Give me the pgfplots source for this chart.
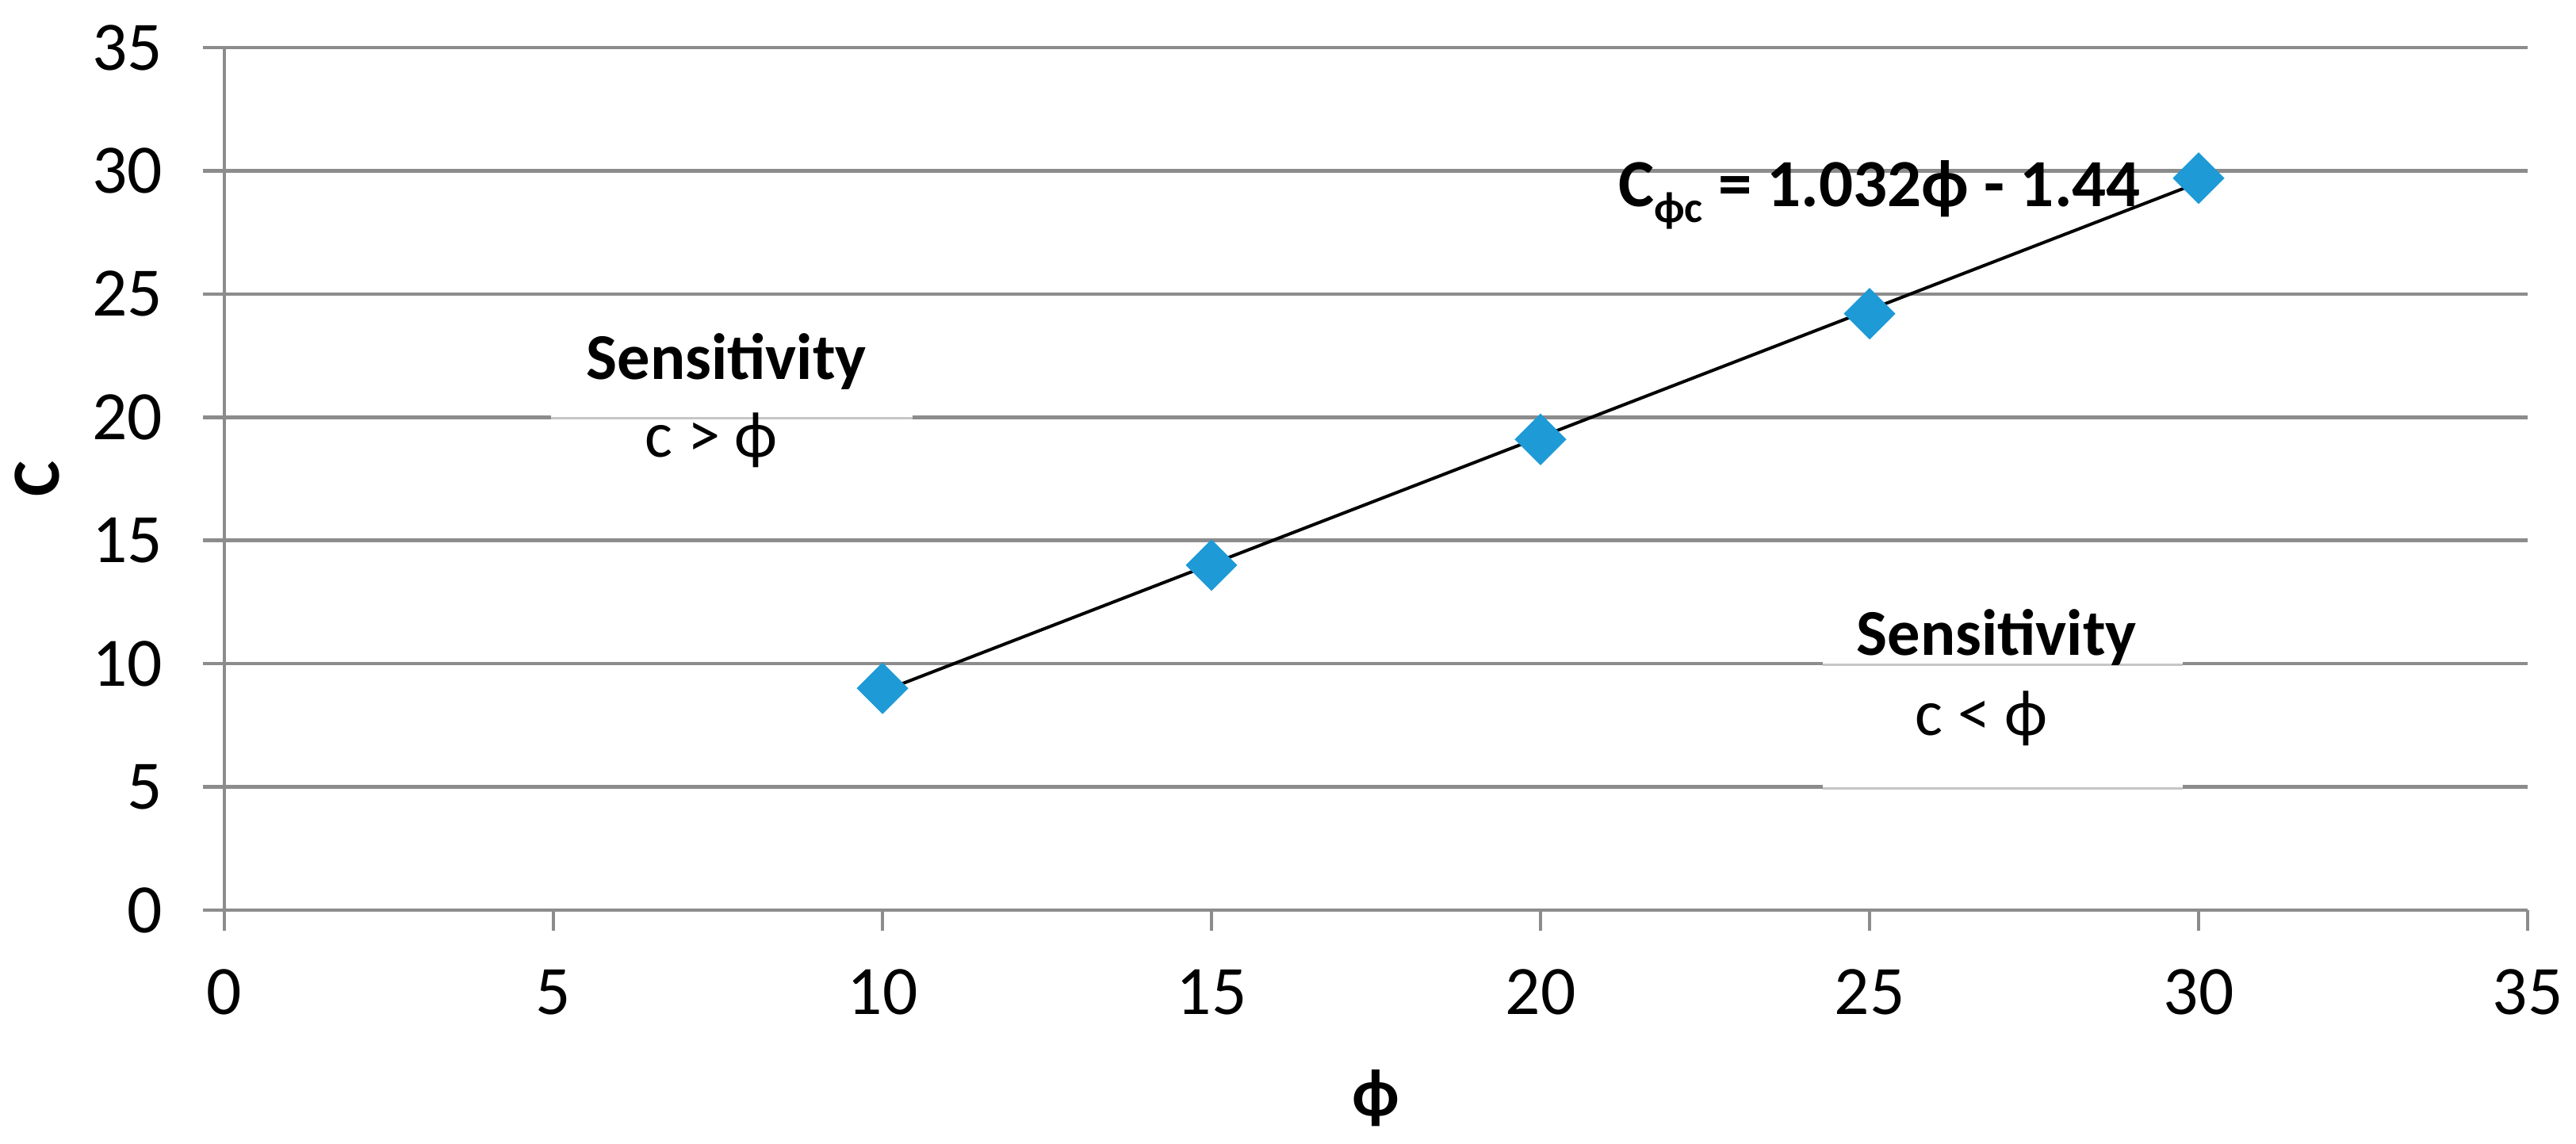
\documentclass[border=0pt]{standalone}
\usepackage{fontspec}
\setmainfont{Carlito}
\usepackage{pgfplots}
\pgfplotsset{compat=1.18}
\definecolor{mblue}{RGB}{30,154,214}
\definecolor{gridgray}{RGB}{140,140,140}
\begin{document}
\begin{tikzpicture}
\begin{axis}[
  name=ax,
  scale only axis,
  width=581pt, height=217.6pt,
  xmin=0, xmax=35, ymin=0, ymax=35,
  xtick={0,5,...,35}, ytick={0,5,...,35},
  axis x line*=bottom, axis y line*=left,
  axis line style={gridgray, line width=0.9pt},
  ymajorgrids=true,
  grid style={gridgray, line width=0.9pt},
  major tick style={gridgray, line width=0.9pt},
  tick align=outside,
  major tick length=5.3pt,
  /pgf/number format/assume math mode=true,
  tick label style={font=\fontsize{17.5}{20}\selectfont},
  xticklabel style={yshift=-6.2pt},
  yticklabel style={xshift=-6.8pt},
  every axis y label/.style={at={(axis description cs:-0.0812,0.5)},anchor=center,rotate=90},
  every axis x label/.style={at={(axis description cs:0.5,-0.2178)},anchor=center},
  xlabel={\fontsize{17}{20}\selectfont\bfseries ϕ},
  ylabel={\fontsize{17}{20}\selectfont\bfseries C},
  clip=false,
]
\addplot[only marks, mark=square*, mark size=4.4pt, mark options={rotate=45, fill=mblue, draw=mblue}]
  coordinates {(10,9.0) (15,14.0) (20,19.1) (25,24.2) (30,29.7)};
\addplot[black, line width=0.8pt, no marks] coordinates {(10,8.88) (30,29.52)};
% annotation boxes (white fill over gridlines, light border)
\draw[white, line width=1.6pt] (axis cs:4.96,20) -- (axis cs:10.46,20);
\draw[gray!45, line width=0.6pt] (axis cs:4.96,19.95) -- (axis cs:10.46,19.95);
\draw[white, line width=1.6pt] (axis cs:24.29,10) -- (axis cs:29.76,10);
\draw[gray!45, line width=0.6pt] (axis cs:24.29,9.95) -- (axis cs:29.76,9.95);
\draw[white, line width=1.6pt] (axis cs:24.29,5) -- (axis cs:29.76,5);
\draw[gray!45, line width=0.6pt] (axis cs:24.29,4.95) -- (axis cs:29.76,4.95);
\node[anchor=base, inner sep=0pt, font=\fontsize{16.5}{20}\selectfont\bfseries] at (axis cs:7.63,21.55) {Sensitivity};
\node[anchor=base, inner sep=0pt, font=\fontsize{16.5}{20}\selectfont] at (axis cs:7.4,18.39) {c > ϕ};
\node[anchor=base, inner sep=0pt, font=\fontsize{16.5}{20}\selectfont\bfseries] at (axis cs:26.93,10.35) {Sensitivity};
\node[anchor=base, inner sep=0pt, font=\fontsize{16.5}{20}\selectfont] at (axis cs:26.7,7.1) {c < ϕ};
\node[anchor=base, inner sep=0pt, font=\fontsize{17}{20}\selectfont\bfseries] at (axis cs:25.15,28.55)
  {C\raisebox{-4pt}{\fontsize{11}{12}\selectfont ϕc} = 1.032ϕ - 1.44};
\end{axis}
\pgfresetboundingbox
\path[use as bounding box] ([xshift=-56.6pt,yshift=-59pt]ax.south west) rectangle ([xshift=12.2pt,yshift=12pt]ax.north east);
\end{tikzpicture}
\end{document}
